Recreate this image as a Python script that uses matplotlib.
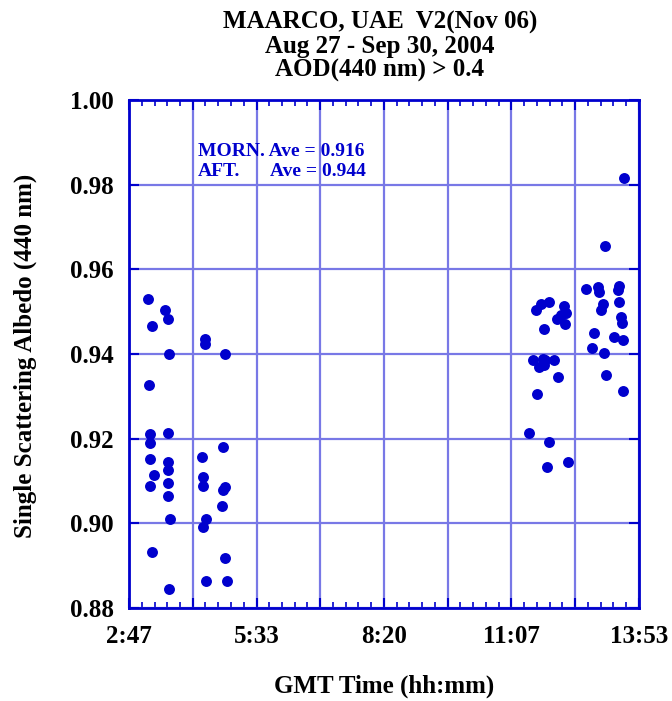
import matplotlib
matplotlib.use("Agg")
import matplotlib.pyplot as plt
import numpy as np
from matplotlib.ticker import FixedLocator

plt.rcParams['font.family'] = ['Liberation Serif', 'DejaVu Serif']

# time in minutes since 00:00 GMT, single scattering albedo at 440 nm
morning_time = [192, 214, 218, 197, 266, 266, 219, 293, 193, 195, 218, 195, 195, 218,
                218, 199, 195, 218, 218, 221, 197, 219,
                290, 262, 264, 264, 292, 290, 288, 268, 264, 292, 268, 295]
morning_ssa = [0.953, 0.9504, 0.9483, 0.9467, 0.9435, 0.9423, 0.940, 0.940, 0.9326, 0.9211,
               0.9213, 0.9189, 0.9152, 0.9146, 0.9125, 0.9113, 0.9089, 0.9096, 0.9065, 0.9010,
               0.8932, 0.8845,
               0.9180, 0.9156, 0.9109, 0.9089, 0.9086, 0.9078, 0.9042, 0.9010, 0.8992, 0.8919,
               0.8864, 0.8864]
afternoon_time = [814, 788, 764, 779, 781, 807, 806, 807, 786, 783, 809, 811, 774, 800,
                  812, 772, 787, 790, 812,
                  716, 705, 698, 735, 738, 731, 726, 737, 709, 694, 707, 710, 722, 703,
                  709, 727, 700, 689, 716, 740, 713]
afternoon_ssa = [0.9815, 0.9654, 0.9554, 0.9558, 0.9547, 0.9561, 0.9551, 0.9524, 0.9518,
                 0.9503, 0.9488, 0.9473, 0.9450, 0.9441, 0.9433, 0.9414, 0.9403, 0.9350,
                 0.9313,
                 0.9524, 0.9518, 0.9503, 0.9514, 0.9498, 0.9492, 0.9483, 0.9470, 0.9460,
                 0.9387, 0.9389, 0.9386, 0.9387, 0.9370, 0.9373, 0.9346, 0.9306, 0.9213,
                 0.9193, 0.9146, 0.9133]

x_tick_labels = ["2:47", "5:33", "8:20", "11:07", "13:53"]
y_ticks = [0.88, 0.90, 0.92, 0.94, 0.96, 0.98, 1.00]
title_lines = ["MAARCO, UAE  V2(Nov 06)", "Aug 27 - Sep 30, 2004", "AOD(440 nm) > 0.4"]
morn_line = "MORN. Ave = 0.916"
aft_label = "AFT."
aft_value = "Ave = 0.944"

x_start, x_end = 167, 833
blue = '#0000CD'
grid_c = '#7878E6'

fig = plt.figure(figsize=(6.72, 7.01), dpi=100)
ax = fig.add_axes([129/672, 1-608/701, 510/672, 508/701])

ax.set_xlim(x_start, x_end)
ax.set_ylim(0.88, 1.00)

grid_x = np.linspace(x_start, x_end, 9)
minor_x = np.linspace(x_start, x_end, 41)
ax.xaxis.set_major_locator(FixedLocator(grid_x))
ax.xaxis.set_minor_locator(FixedLocator(minor_x))
ax.set_xticklabels([x_tick_labels[i // 2] if i % 2 == 0 else "" for i in range(9)])
ax.yaxis.set_major_locator(FixedLocator(y_ticks))
ax.set_yticklabels([f"{v:.2f}" for v in y_ticks])

ax.grid(True, which='major', color=grid_c, linewidth=1.6, zorder=1)
ax.set_axisbelow(True)

ax.tick_params(axis='both', which='major', direction='in', length=7, width=1.5,
               color=blue, top=True, right=True, labelsize=18)
ax.tick_params(axis='x', which='major', pad=12)
ax.tick_params(axis='y', which='major', pad=11)
ax.tick_params(axis='x', which='minor', direction='in', length=4, width=1.2,
               color=blue, top=True, bottom=True)
for lab in ax.get_xticklabels() + ax.get_yticklabels():
    lab.set_fontweight('bold')

for sp in ax.spines.values():
    sp.set_color(blue)
    sp.set_linewidth(2)

ax.scatter(morning_time, morning_ssa, s=62, color=blue, zorder=3, linewidths=0)
ax.scatter(afternoon_time, afternoon_ssa, s=62, color=blue, zorder=3, linewidths=0)

fig.text(198/672, 1-152/701, morn_line, color=blue, fontsize=14, fontweight='bold',
         va='center', ha='left')
fig.text(198/672, 1-172/701, aft_label, color=blue, fontsize=14, fontweight='bold',
         va='center', ha='left')
fig.text(366/672, 1-172/701, aft_value, color=blue, fontsize=14, fontweight='bold',
         va='center', ha='right')

for i, line in enumerate(title_lines):
    fig.text(380/672, 1-(22+24*i)/701, line, ha='center', va='center',
             fontsize=18, fontweight='bold')

fig.text(384/672, 1-686/701, "GMT Time (hh:mm)", ha='center', va='center',
         fontsize=18, fontweight='bold')
fig.text(25/672, 1-356/701, "Single Scattering Albedo (440 nm)", ha='center',
         va='center', rotation=90, fontsize=18, fontweight='bold')

fig.savefig("out.png", dpi=100)
